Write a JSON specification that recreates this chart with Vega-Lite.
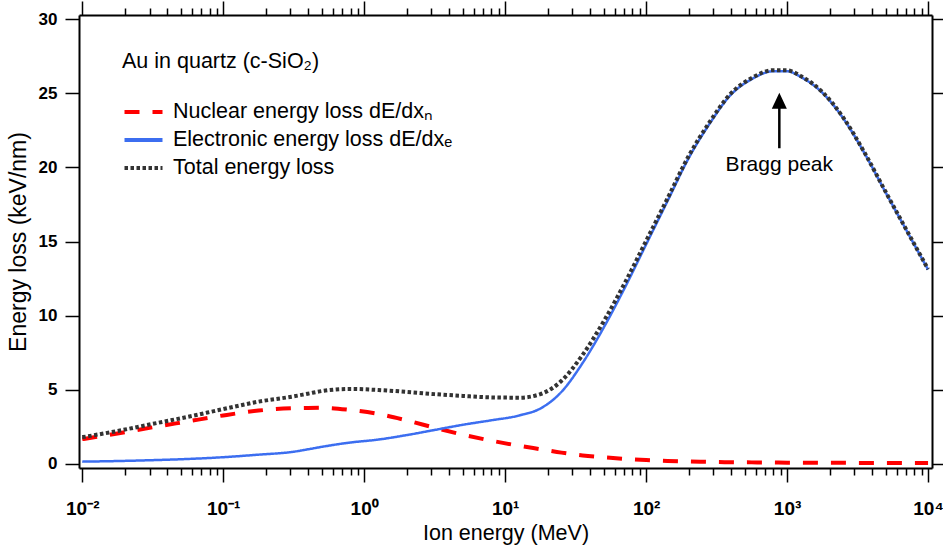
{
  "$schema": "https://vega.github.io/schema/vega-lite/v6.json",
  "width": 853,
  "height": 453,
  "autosize": "none",
  "padding": {"left": 79, "top": 15, "right": 11, "bottom": 79},
  "background": "white",
  "config": {
    "view": {"stroke": null},
    "font": "Liberation Sans",
    "axis": {"domainColor": "black", "domainWidth": 2, "tickColor": "black", "tickWidth": 1.5, "grid": false, "labelColor": "black", "titleColor": "black", "labelFont": "Liberation Sans", "titleFont": "Liberation Sans"},
    "legend": {"titleFont": "Liberation Sans", "labelFont": "Liberation Sans", "titleFontSize": 21.5, "titleFontWeight": "normal", "titleColor": "black", "titlePadding": 28, "titleLimit": 600, "labelFontSize": 21.5, "labelColor": "black", "labelLimit": 600, "symbolType": "M-2,0H2", "symbolSize": 361, "symbolStrokeWidth": 4, "rowPadding": 6, "symbolOffset": 10, "labelOffset": 18, "padding": 0}
  },
  "datasets": {
    "curves": [
      {"E": 0.01, "loss": 1.65, "s": "N"}, {"E": 0.01778, "loss": 2.03, "s": "N"}, {"E": 0.03162, "loss": 2.45, "s": "N"}, {"E": 0.05623, "loss": 2.85, "s": "N"}, {"E": 0.1, "loss": 3.25, "s": "N"}, {"E": 0.1778, "loss": 3.58, "s": "N"}, {"E": 0.3162, "loss": 3.74, "s": "N"}, {"E": 0.3981, "loss": 3.76, "s": "N"}, {"E": 0.5012, "loss": 3.77, "s": "N"}, {"E": 0.7943, "loss": 3.62, "s": "N"}, {"E": 1.259, "loss": 3.35, "s": "N"}, {"E": 1.995, "loss": 2.92, "s": "N"}, {"E": 3.162, "loss": 2.42, "s": "N"}, {"E": 5.012, "loss": 1.95, "s": "N"}, {"E": 7.943, "loss": 1.55, "s": "N"}, {"E": 12.59, "loss": 1.2, "s": "N"}, {"E": 17.78, "loss": 0.97, "s": "N"}, {"E": 25.12, "loss": 0.74, "s": "N"}, {"E": 35.48, "loss": 0.55, "s": "N"}, {"E": 50.12, "loss": 0.42, "s": "N"}, {"E": 70.79, "loss": 0.32, "s": "N"}, {"E": 100, "loss": 0.24, "s": "N"}, {"E": 141.3, "loss": 0.18, "s": "N"}, {"E": 199.5, "loss": 0.14, "s": "N"}, {"E": 281.8, "loss": 0.11, "s": "N"}, {"E": 398.1, "loss": 0.09, "s": "N"}, {"E": 562.3, "loss": 0.08, "s": "N"}, {"E": 794.3, "loss": 0.07, "s": "N"}, {"E": 1000, "loss": 0.06, "s": "N"}, {"E": 1259, "loss": 0.06, "s": "N"}, {"E": 1778, "loss": 0.05, "s": "N"}, {"E": 2512, "loss": 0.05, "s": "N"}, {"E": 3548, "loss": 0.04, "s": "N"}, {"E": 5012, "loss": 0.04, "s": "N"}, {"E": 7079, "loss": 0.03, "s": "N"}, {"E": 10000, "loss": 0.03, "s": "N"},
      {"E": 0.01, "loss": 0.13, "s": "E"}, {"E": 0.01778, "loss": 0.17, "s": "E"}, {"E": 0.03162, "loss": 0.23, "s": "E"}, {"E": 0.05623, "loss": 0.31, "s": "E"}, {"E": 0.1, "loss": 0.43, "s": "E"}, {"E": 0.1778, "loss": 0.6, "s": "E"}, {"E": 0.3162, "loss": 0.8, "s": "E"}, {"E": 0.3981, "loss": 0.96, "s": "E"}, {"E": 0.5012, "loss": 1.13, "s": "E"}, {"E": 0.7943, "loss": 1.42, "s": "E"}, {"E": 1.259, "loss": 1.62, "s": "E"}, {"E": 1.995, "loss": 1.92, "s": "E"}, {"E": 3.162, "loss": 2.27, "s": "E"}, {"E": 5.012, "loss": 2.62, "s": "E"}, {"E": 7.943, "loss": 2.92, "s": "E"}, {"E": 12.59, "loss": 3.25, "s": "E"}, {"E": 17.78, "loss": 3.72, "s": "E"}, {"E": 25.12, "loss": 4.85, "s": "E"}, {"E": 35.48, "loss": 6.8, "s": "E"}, {"E": 50.12, "loss": 9.2, "s": "E"}, {"E": 70.79, "loss": 11.9, "s": "E"}, {"E": 100, "loss": 14.8, "s": "E"}, {"E": 141.3, "loss": 17.7, "s": "E"}, {"E": 199.5, "loss": 20.6, "s": "E"}, {"E": 281.8, "loss": 22.95, "s": "E"}, {"E": 398.1, "loss": 24.9, "s": "E"}, {"E": 562.3, "loss": 25.97, "s": "E"}, {"E": 794.3, "loss": 26.5, "s": "E"}, {"E": 1000, "loss": 26.5, "s": "E"}, {"E": 1259, "loss": 26.1, "s": "E"}, {"E": 1778, "loss": 25.05, "s": "E"}, {"E": 2512, "loss": 23.3, "s": "E"}, {"E": 3548, "loss": 20.95, "s": "E"}, {"E": 5012, "loss": 18.3, "s": "E"}, {"E": 7079, "loss": 15.7, "s": "E"}, {"E": 10000, "loss": 13.1, "s": "E"},
      {"E": 0.01, "loss": 1.78, "s": "T"}, {"E": 0.01778, "loss": 2.2, "s": "T"}, {"E": 0.03162, "loss": 2.68, "s": "T"}, {"E": 0.05623, "loss": 3.16, "s": "T"}, {"E": 0.1, "loss": 3.68, "s": "T"}, {"E": 0.1778, "loss": 4.18, "s": "T"}, {"E": 0.3162, "loss": 4.54, "s": "T"}, {"E": 0.3981, "loss": 4.72, "s": "T"}, {"E": 0.5012, "loss": 4.9, "s": "T"}, {"E": 0.7943, "loss": 5.04, "s": "T"}, {"E": 1.259, "loss": 4.97, "s": "T"}, {"E": 1.995, "loss": 4.84, "s": "T"}, {"E": 3.162, "loss": 4.69, "s": "T"}, {"E": 5.012, "loss": 4.57, "s": "T"}, {"E": 7.943, "loss": 4.47, "s": "T"}, {"E": 12.59, "loss": 4.45, "s": "T"}, {"E": 17.78, "loss": 4.69, "s": "T"}, {"E": 25.12, "loss": 5.59, "s": "T"}, {"E": 35.48, "loss": 7.35, "s": "T"}, {"E": 50.12, "loss": 9.62, "s": "T"}, {"E": 70.79, "loss": 12.22, "s": "T"}, {"E": 100, "loss": 15.04, "s": "T"}, {"E": 141.3, "loss": 17.88, "s": "T"}, {"E": 199.5, "loss": 20.74, "s": "T"}, {"E": 281.8, "loss": 23.06, "s": "T"}, {"E": 398.1, "loss": 24.99, "s": "T"}, {"E": 562.3, "loss": 26.05, "s": "T"}, {"E": 794.3, "loss": 26.57, "s": "T"}, {"E": 1000, "loss": 26.56, "s": "T"}, {"E": 1259, "loss": 26.16, "s": "T"}, {"E": 1778, "loss": 25.1, "s": "T"}, {"E": 2512, "loss": 23.35, "s": "T"}, {"E": 3548, "loss": 20.99, "s": "T"}, {"E": 5012, "loss": 18.34, "s": "T"}, {"E": 7079, "loss": 15.73, "s": "T"}, {"E": 10000, "loss": 13.13, "s": "T"}
    ],
    "arrow": [{"E": 881, "loss": 21.3, "loss2": 24.3}],
    "head": [{"E": 881, "loss": 24.5}],
    "note": [{"E": 881, "loss": 20.2, "label": "Bragg peak"}]
  },
  "layer": [
    {
      "data": {"name": "curves"},
      "transform": [{"filter": "datum.s == 'N'"}],
      "mark": {"type": "line", "strokeWidth": 4, "interpolate": "monotone", "strokeCap": "butt"},
      "encoding": {
        "x": {"field": "E", "type": "quantitative", "scale": {"type": "log", "domain": [0.009484, 10666], "nice": false},
          "axis": {"orient": "bottom", "values": [0.01, 0.1, 1, 10, 100, 1000, 10000], "tickSize": 14, "labelFontSize": 19, "labelFontWeight": "bold", "labelPadding": 17, "labelFlush": false, "labelOverlap": false,
            "labelExpr": "datum.value < 0.05 ? '10⁻²' : datum.value < 0.5 ? '10⁻¹' : datum.value < 5 ? '10⁰' : datum.value < 50 ? '10¹' : datum.value < 500 ? '10²' : datum.value < 5000 ? '10³' : '10⁴'",
            "title": "Ion energy (MeV)", "titleFontSize": 21.5, "titleFontWeight": "normal", "titlePadding": 4}},
        "y": {"field": "loss", "type": "quantitative", "scale": {"domain": [-0.3, 30.3], "nice": false, "zero": false},
          "axis": {"orient": "left", "values": [0, 5, 10, 15, 20, 25, 30], "tickSize": 14, "labelFontSize": 17, "labelFontWeight": "bold", "labelPadding": 8, "title": "Energy loss (keV/nm)", "titleFontSize": 23, "titleFontWeight": "normal", "titlePadding": 8}},
        "color": {"field": "s", "type": "nominal", "scale": {"domain": ["N", "E", "T"], "range": ["#FF0000", "#3C6EF0", "#333333"]},
          "legend": {"orient": "none", "legendX": 43, "legendY": 36, "title": "Au in quartz (c-SiO₂)",
            "labelExpr": "datum.value == 'N' ? 'Nuclear energy loss dE/dxₙ' : datum.value == 'E' ? 'Electronic energy loss dE/dxₑ' : 'Total energy loss'"}},
        "strokeDash": {"field": "s", "type": "nominal", "scale": {"domain": ["N", "E", "T"], "range": [[15, 13], [1, 0], [3.5, 2.5]]},
          "legend": {"orient": "none", "legendX": 43, "legendY": 36, "title": "Au in quartz (c-SiO₂)",
            "labelExpr": "datum.value == 'N' ? 'Nuclear energy loss dE/dxₙ' : datum.value == 'E' ? 'Electronic energy loss dE/dxₑ' : 'Total energy loss'"}}
      }
    },
    {
      "data": {"name": "curves"},
      "transform": [{"filter": "datum.s == 'E'"}],
      "mark": {"type": "line", "strokeWidth": 2.5, "interpolate": "monotone"},
      "encoding": {
        "x": {"field": "E", "type": "quantitative", "scale": {"type": "log", "domain": [0.009484, 10666], "nice": false},
          "axis": {"orient": "bottom", "values": [0.02, 0.03, 0.04, 0.05, 0.06, 0.07, 0.08, 0.09, 0.2, 0.3, 0.4, 0.5, 0.6, 0.7, 0.8, 0.9, 2, 3, 4, 5, 6, 7, 8, 9, 20, 30, 40, 50, 60, 70, 80, 90, 200, 300, 400, 500, 600, 700, 800, 900, 2000, 3000, 4000, 5000, 6000, 7000, 8000, 9000], "tickSize": 7, "labels": false, "domain": false, "title": null}},
        "y": {"field": "loss", "type": "quantitative", "scale": {"domain": [-0.3, 30.3], "nice": false, "zero": false},
          "axis": {"orient": "right", "values": [0, 5, 10, 15, 20, 25, 30], "tickSize": 14, "labels": false, "title": null}},
        "color": {"field": "s", "type": "nominal", "scale": {"domain": ["N", "E", "T"], "range": ["#FF0000", "#3C6EF0", "#333333"]}},
        "strokeDash": {"field": "s", "type": "nominal", "scale": {"domain": ["N", "E", "T"], "range": [[15, 13], [1, 0], [3.5, 2.5]]}}
      }
    },
    {
      "data": {"name": "curves"},
      "transform": [{"filter": "datum.s == 'T'"}],
      "mark": {"type": "line", "strokeWidth": 4, "interpolate": "monotone", "strokeCap": "butt"},
      "encoding": {
        "x": {"field": "E", "type": "quantitative", "scale": {"type": "log", "domain": [0.009484, 10666], "nice": false},
          "axis": {"orient": "top", "values": [0.01, 0.1, 1, 10, 100, 1000, 10000], "tickSize": 14, "labels": false, "title": null}},
        "y": {"field": "loss", "type": "quantitative", "scale": {"domain": [-0.3, 30.3], "nice": false, "zero": false}, "axis": null},
        "color": {"field": "s", "type": "nominal", "scale": {"domain": ["N", "E", "T"], "range": ["#FF0000", "#3C6EF0", "#333333"]}},
        "strokeDash": {"field": "s", "type": "nominal", "scale": {"domain": ["N", "E", "T"], "range": [[15, 13], [1, 0], [3.5, 2.5]]}}
      }
    },
    {
      "data": {"name": "arrow"},
      "mark": {"type": "rule", "strokeWidth": 2.5, "color": "black"},
      "encoding": {
        "x": {"field": "E", "type": "quantitative", "scale": {"type": "log", "domain": [0.009484, 10666], "nice": false},
          "axis": {"orient": "top", "values": [0.02, 0.03, 0.04, 0.05, 0.06, 0.07, 0.08, 0.09, 0.2, 0.3, 0.4, 0.5, 0.6, 0.7, 0.8, 0.9, 2, 3, 4, 5, 6, 7, 8, 9, 20, 30, 40, 50, 60, 70, 80, 90, 200, 300, 400, 500, 600, 700, 800, 900, 2000, 3000, 4000, 5000, 6000, 7000, 8000, 9000], "tickSize": 7, "labels": false, "domain": false, "title": null}},
        "y": {"field": "loss", "type": "quantitative", "scale": {"domain": [-0.3, 30.3], "nice": false, "zero": false}, "axis": null},
        "y2": {"field": "loss2"}
      }
    },
    {
      "data": {"name": "head"},
      "mark": {"type": "point", "shape": "M0,-1L0.94,1L-0.94,1Z", "size": 256, "filled": true, "color": "black", "opacity": 1, "strokeWidth": 0},
      "encoding": {
        "x": {"field": "E", "type": "quantitative", "scale": {"type": "log", "domain": [0.009484, 10666], "nice": false}, "axis": null},
        "y": {"field": "loss", "type": "quantitative", "scale": {"domain": [-0.3, 30.3], "nice": false, "zero": false}, "axis": null}
      }
    },
    {
      "data": {"name": "note"},
      "mark": {"type": "text", "fontSize": 21, "color": "black", "align": "center", "baseline": "middle", "font": "Liberation Sans"},
      "encoding": {
        "x": {"field": "E", "type": "quantitative", "scale": {"type": "log", "domain": [0.009484, 10666], "nice": false}, "axis": null},
        "y": {"field": "loss", "type": "quantitative", "scale": {"domain": [-0.3, 30.3], "nice": false, "zero": false}, "axis": null},
        "text": {"field": "label"}
      }
    }
  ],
  "resolve": {"axis": {"x": "independent", "y": "independent"}}
}
